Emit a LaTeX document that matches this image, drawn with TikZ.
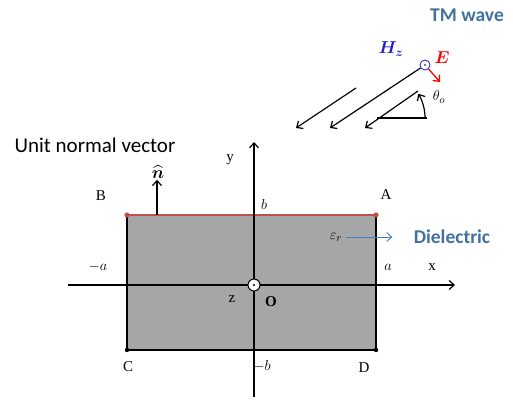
\documentclass[tikz,border=0pt]{standalone}
\usepackage{amsmath,amssymb}
\usepackage{fontspec}
\usepackage{xcolor}
\usetikzlibrary{arrows.meta}
\setmainfont{Liberation Serif}
\newfontfamily\calibri{Carlito}
\definecolor{wavecol}{HTML}{41719C}
\definecolor{edgered}{HTML}{C0504D}
\definecolor{slabgray}{HTML}{A6A6A6}
\definecolor{fieldblue}{HTML}{2020C8}
\definecolor{arrowblue}{HTML}{4A7EC0}

\begin{document}
\begin{tikzpicture}[x=1pt,y=-1pt,>={Straight Barb[length=5pt,width=9pt]},
    lbl/.style={font=\fontsize{15}{17}\selectfont},
    title/.style={font=\calibri\bfseries\fontsize{19.5}{22}\selectfont,text=wavecol},
    ray/.style={line width=1.2pt,->}]
  \useasboundingbox (0,0) rectangle (513,399);
  % dielectric slab
  \coordinate (B) at (127,215);
  \coordinate (A) at (376,215);
  \coordinate (C) at (127,350);
  \coordinate (D) at (376,350);
  \fill[slabgray] (B) rectangle (D);
  \draw[line width=1.2pt] (B) -- (C) -- (D) -- (A);
  \draw[edgered,line width=2.6pt] (B) -- (A);
  \fill[edgered] (B) circle (2.6pt) (A) circle (2.6pt);
  \fill (C) circle (2.2pt) (D) circle (2.2pt);
  % axes
  \coordinate (xl) at (68,285);
  \coordinate (xr) at (455,285);
  \coordinate (yb) at (254,397);
  \coordinate (yt) at (254,142);
  \draw[line width=1.2pt,->] (xl) -- (xr);
  \draw[line width=1.2pt,->] (yb) -- (yt);
  \node[circle,draw,line width=1pt,fill=white,minimum size=12pt,inner sep=0pt] (O) at (254,285) {};
  \fill (O) circle (1.2pt);
  % labels
  \node[lbl] at (230,160) {y};
  \node[lbl] at (432,267) {x};
  \node[lbl] at (232,299) {z};
  \node[lbl] at (271,302) {\textbf{O}};
  \node[lbl] at (264,204) {$b$};
  \node[lbl] at (262,366) {$-b$};
  \node[lbl] at (388,267) {$a$};
  \node[lbl] at (98,267) {$-a$};
  \node[lbl] at (386,195) {A};
  \node[lbl] at (101,196) {B};
  \node[lbl] at (128,367) {C};
  \node[lbl] at (364,368) {D};
  % normal vector
  \node[font=\calibri\fontsize{21}{24}\selectfont,inner sep=1pt] at (95,145) {Unit normal vector};
  \coordinate (nfoot) at (157,215);
  \node[font=\fontsize{18}{20}\selectfont,inner sep=1pt] (nhat) at (158,172) {$\widehat{\boldsymbol{n}}$};
  \draw[line width=1.2pt,->] (nfoot) -- (nhat.south -| nfoot);
  % dielectric label
  \node[lbl] (eps) at (336,237) {$\varepsilon_r$};
  \node[title] (diel) at (452,237) {Dielectric};
  \draw[arrowblue,line width=0.9pt,->,shorten >=18pt] (eps) -- (diel);
  % incident wave
  \node[title] at (467,15) {TM wave};
  \node[circle,draw=fieldblue,line width=0.8pt,minimum size=10pt,inner sep=0pt] (Hc) at (425,65) {};
  \fill[black] (Hc) circle (0.9pt);
  \node[font=\fontsize{17}{19}\selectfont,text=fieldblue] at (391,49) {$\boldsymbol{H_z}$};
  \node[font=\fontsize{17}{19}\selectfont,text=red] at (442,58) {$\boldsymbol{E}$};
  \coordinate (Etip) at (440,82);
  \draw[red,line width=1.3pt,->] (Hc) -- (Etip);
  \coordinate (w1s) at (356,88);
  \coordinate (w1e) at (296,128);
  \coordinate (w2e) at (330,128);
  \coordinate (w3s) at (418,91);
  \coordinate (w3e) at (365,128);
  \draw[ray] (w1s) -- (w1e);
  \draw[ray] (Hc) -- (w2e);
  \draw[ray] (w3s) -- (w3e);
  \coordinate (hl) at (377,118);
  \coordinate (hr) at (427,118);
  \draw[line width=1.2pt] (hl) -- (hr);
  \coordinate (arcs) at (425,118);
  \draw[line width=1.2pt,->] (arcs) arc[start angle=0,end angle=31,radius=47pt];
  \node[lbl] at (439,97) {$\theta_o$};
\end{tikzpicture}
\end{document}
